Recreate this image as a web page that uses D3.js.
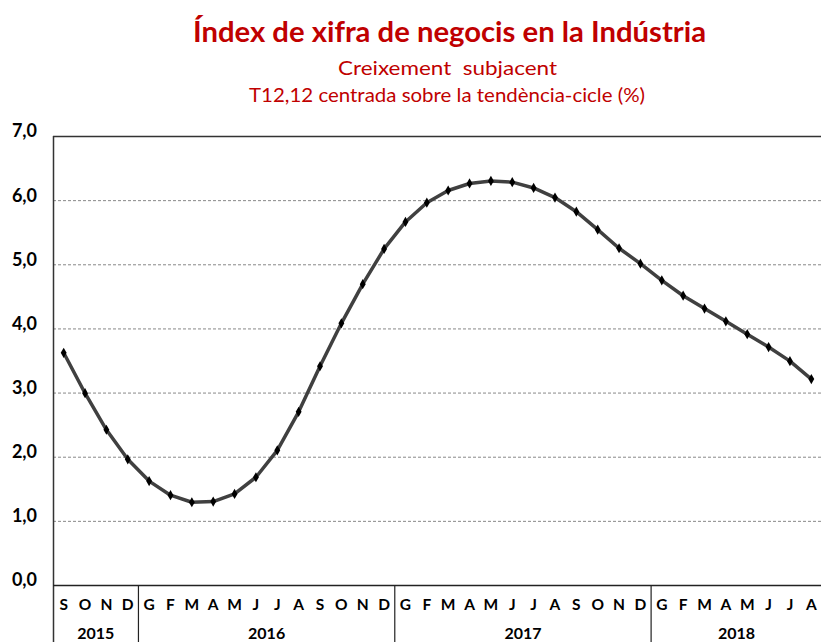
<!DOCTYPE html>
<html><head><meta charset="utf-8">
<script src="https://cdn.jsdelivr.net/npm/d3@7"></script>
<style>body{margin:0;background:#fff}svg{display:block}</style>
</head><body>
<svg id="c" width="821" height="642"></svg>
<script>
const months = ["S","O","N","D","G","F","M","A","M","J","J","A","S","O","N","D","G","F","M","A","M","J","J","A","S","O","N","D","G","F","M","A","M","J","J","A"];
const years = [{label:"2015",n:4},{label:"2016",n:12},{label:"2017",n:12},{label:"2018",n:8}];
const values = [3.62,2.99,2.42,1.96,1.62,1.40,1.29,1.30,1.42,1.68,2.10,2.70,3.41,4.08,4.69,5.24,5.66,5.96,6.15,6.26,6.30,6.28,6.19,6.04,5.82,5.54,5.25,5.01,4.75,4.51,4.31,4.11,3.91,3.71,3.49,3.21];
const yTicks = [0,1,2,3,4,5,6,7];
const title = "Índex de xifra de negocis en la Indústria";
const sub1 = "Creixement  subjacent";
const sub2 = "T12,12 centrada sobre la tendència-cicle (%)";

const svg = d3.select("#c");
const L=53, R=822, T=136, B=585, bottomEdge=642;
const font = "Lato, 'Open Sans', sans-serif";
const red = "#C00000";

const idx = months.map((m,i)=>i);
const x = d3.scaleBand().domain(idx).range([L,R]).paddingInner(0).paddingOuter(0);
const y = d3.scaleLinear().domain([0,7]).range([B,T]);

function fitText(sel, w){ sel.attr("textLength", w).attr("lengthAdjust","spacingAndGlyphs"); }
svg.append("text").attr("x",449.5).attr("y",42).attr("text-anchor","middle")
  .attr("font-family",font).attr("font-weight","bold").attr("font-size",29).attr("fill",red)
  .text(title).call(fitText,513);
svg.append("text").attr("x",447.5).attr("y",75).attr("text-anchor","middle")
  .attr("font-family",font).attr("font-size",19).attr("fill",red)
  .text(sub1).style("white-space","pre").call(fitText,219);
svg.append("text").attr("x",447).attr("y",102).attr("text-anchor","middle")
  .attr("font-family",font).attr("font-size",19).attr("fill",red)
  .text(sub2).call(fitText,396);

// gridlines
svg.append("g").selectAll("line").data(yTicks.filter(v=>v>0&&v<7)).join("line")
  .attr("x1",L).attr("x2",R).attr("y1",d=>y(d)+0.5).attr("y2",d=>y(d)+0.5)
  .attr("stroke","#888").attr("stroke-width",1).attr("stroke-dasharray","3,2");
svg.append("line").attr("x1",L).attr("x2",R).attr("y1",T+0.5).attr("y2",T+0.5).attr("stroke","#333").attr("stroke-width",1.5);
// y axis
const yAxis = d3.axisLeft(y).tickValues(yTicks).tickSize(0).tickPadding(16)
  .tickFormat(d=>d3.format(".1f")(d).replace(".",","));
const ga = svg.append("g").attr("transform",`translate(${L},0)`).call(yAxis);
ga.select(".domain").remove();
ga.selectAll("text").attr("font-family",font).attr("font-weight","bold").attr("font-size",18).attr("fill","#000").attr("dy","0.05em");
svg.append("line").attr("x1",L+0.5).attr("x2",L+0.5).attr("y1",T).attr("y2",bottomEdge).attr("stroke","#333").attr("stroke-width",1.5);
svg.append("line").attr("x1",L).attr("x2",R).attr("y1",B+0.5).attr("y2",B+0.5).attr("stroke","#222").attr("stroke-width",1.5);

// month labels
const xAxis = d3.axisBottom(x).tickSize(0).tickPadding(14).tickFormat(i=>months[i]);
const gx = svg.append("g").attr("transform",`translate(0,${B})`).call(xAxis);
gx.select(".domain").remove();
gx.selectAll("text").attr("font-family",font).attr("font-weight","bold").attr("font-size",15.5).attr("fill","#000");

// year separators and labels
let start=0;
years.forEach((yr,k)=>{
  const x0 = x(start), x1 = x(start+yr.n-1)+x.bandwidth();
  if(k>0) svg.append("line").attr("x1",x0).attr("x2",x0).attr("y1",B).attr("y2",bottomEdge).attr("stroke","#222").attr("stroke-width",1.2);
  svg.append("text").attr("x",(x0+x1)/2).attr("y",639).attr("text-anchor","middle")
    .attr("font-family",font).attr("font-weight","bold").attr("font-size",16).attr("fill","#000").text(yr.label);
  start += yr.n;
});

// line
const cx = i=>x(i)+x.bandwidth()/2;
svg.append("path").datum(values).attr("fill","none").attr("stroke","#404040").attr("stroke-width",3.5)
  .attr("stroke-linejoin","round")
  .attr("d",d3.line().x((d,i)=>cx(i)).y(d=>y(d)));
svg.append("g").selectAll("path").data(values).join("path")
  .attr("d",d3.symbol(d3.symbolDiamond,30))
  .attr("transform",(d,i)=>`translate(${cx(i)},${y(d)})`).attr("fill","#000");
</script>
</body></html>
